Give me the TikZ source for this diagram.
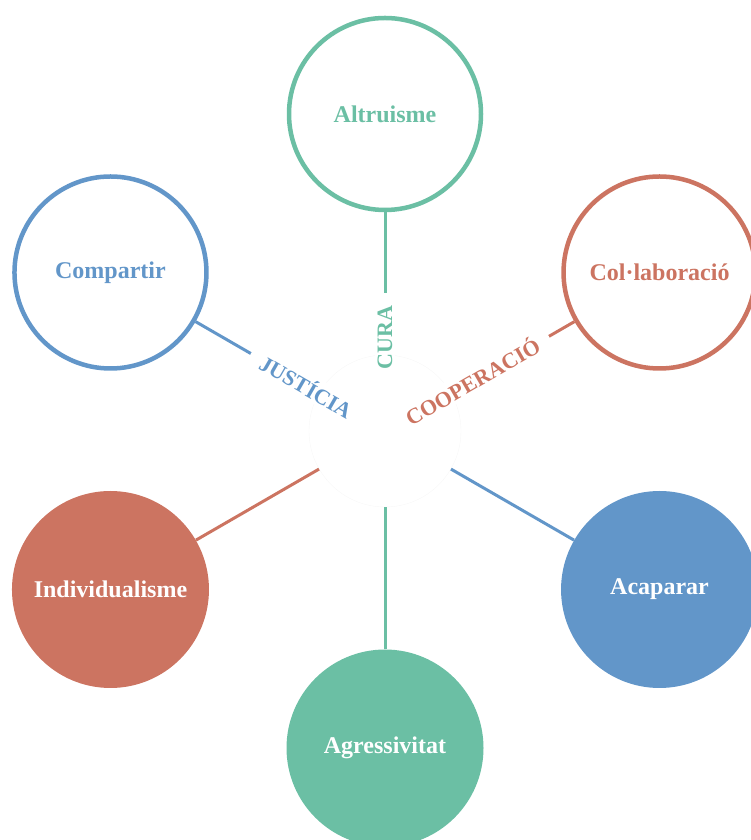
\documentclass[tikz,border=0pt]{standalone}
\usepackage{fontspec}
\setmainfont{Liberation Serif}
\usetikzlibrary{positioning}
\definecolor{verd}{RGB}{107,191,164}
\definecolor{blau}{RGB}{98,150,201}
\definecolor{vermell}{RGB}{204,116,97}

\begin{document}
\begin{tikzpicture}[x=1pt,y=1pt,
  valor/.style={circle,draw=#1,line width=4.5pt,minimum size=192pt,fill=white,text=#1,
    font=\bfseries\fontsize{24}{28}\selectfont},
  contravalor/.style={circle,fill=#1,minimum size=197pt,text=white,
    font=\bfseries\fontsize{24}{28}\selectfont},
  eix/.style={draw=#1,line width=3pt},
  etiqueta/.style={sloped,fill=white,text=#1,inner xsep=13pt,inner ysep=3pt,
    font=\bfseries\fontsize{22}{26}\selectfont}]
\useasboundingbox (0,0) rectangle (751,840);
\node[circle,draw=black!3,minimum size=152pt] (centre) at (385,409) {};
% valors
\foreach \a/\nom/\t/\c in {
  90/altruisme/Altruisme/verd,
  150/compartir/Compartir/blau,
  30/collaboracio/Col·laboració/vermell}
\path (centre.center) ++(\a:317) node[valor=\c](\nom){\t};
% contravalors
\foreach \a/\nom/\t/\c in {
  210/individualisme/Individualisme/vermell,
  270/agressivitat/Agressivitat/verd,
  330/acaparar/Acaparar/blau}
\path (centre.center) ++(\a:317) node[contravalor=\c](\nom){\t};
% eixos
\draw[eix=verd] (centre) -- node[etiqueta=verd,pos=.12]{CURA} (altruisme);
\draw[eix=blau] (centre) -- node[etiqueta=blau,pos=.10]{JUSTÍCIA} (compartir);
\draw[eix=vermell] (centre) -- node[etiqueta=vermell,pos=.17]{COOPERACIÓ} (collaboracio);
\foreach \nom/\c in {individualisme/vermell,agressivitat/verd,acaparar/blau}
  \draw[eix=\c] (centre) -- (\nom);
\end{tikzpicture}
\end{document}
